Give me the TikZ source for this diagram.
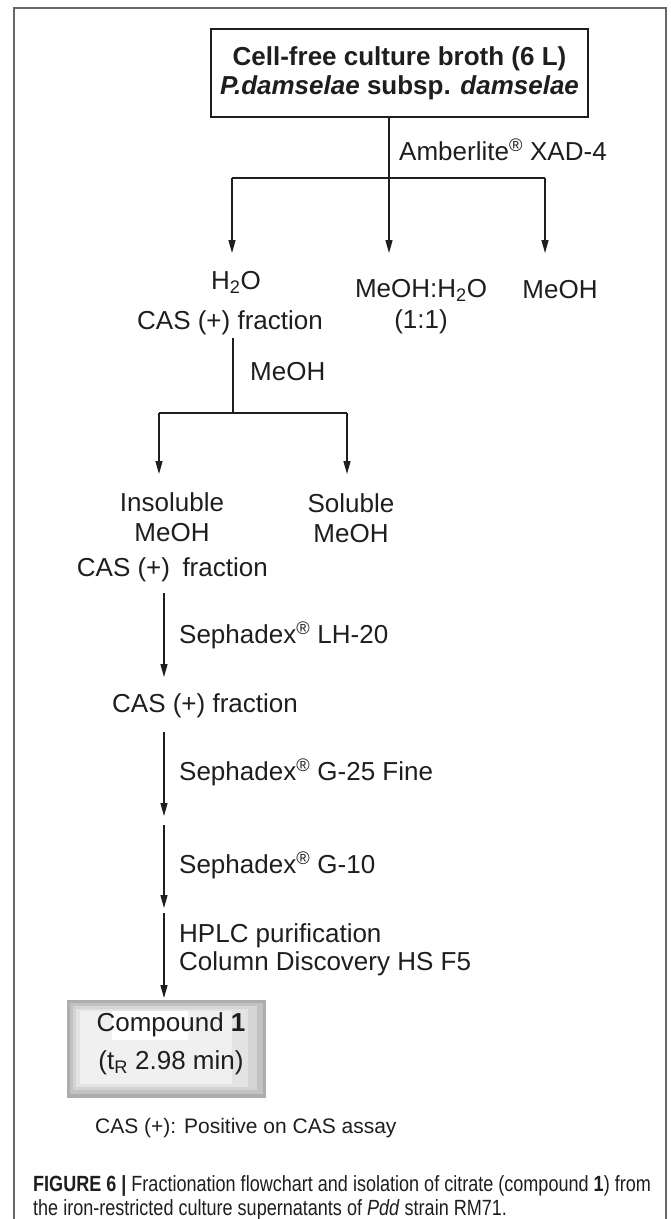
\documentclass[tikz,border=0pt]{standalone}
\usepackage{fontspec}
\setmainfont{Liberation Sans}
\newfontfamily\narrowfont[FakeStretch=0.82]{Liberation Sans}
\usetikzlibrary{arrows.meta}
\definecolor{ink}{HTML}{1E1E1E}
\begin{document}
\begin{tikzpicture}[x=1pt,y=-1pt,
  lbl/.style={inner sep=0pt, font=\fontsize{26}{30}\selectfont, text=ink},
  ln/.style={line width=1.3pt, draw=ink},
  arr/.style={ln, -{Stealth[length=13pt,width=7pt,inset=0pt]}},
  notetxt/.style={inner sep=0pt, font=\fontsize{21}{24}\selectfont, text=ink},
  captxt/.style={inner sep=0pt, font=\narrowfont\fontsize{22}{24.5}\selectfont, text=ink, align=left},
]
\useasboundingbox (0,0) rectangle (670,1219);
% outer frame
\draw[line width=1.5pt, draw=black!60] (14,1225) -- (14,8) -- (666,8) -- (666,1225);

% top box
\node[lbl, draw=ink, line width=1.3pt, minimum width=377pt, minimum height=88pt, align=center, font=\fontsize{26}{29}\selectfont\bfseries]
  (broth) at (399.5,73) {Cell-free culture broth (6 L)\\\textit{P.damselae} subsp. \textit{damselae}};
\node[lbl, anchor=west] (amb) at (399,150) {Amberlite\textsuperscript{\textregistered} XAD-4};

\coordinate (s1) at (389,178);
\coordinate (s1l) at (232,178);
\coordinate (s1r) at (545,178);
\coordinate (e1l) at (232,253);
\coordinate (e1m) at (389,253);
\coordinate (e1r) at (545,253);
\draw[ln] (broth.south -| s1) -- (s1);
\draw[ln] (s1l) -- (s1r);
\draw[arr] (s1l) -- (e1l);
\draw[arr] (s1) -- (e1m);
\draw[arr] (s1r) -- (e1r);

\node[lbl] (h2o) at (236,282) {H\textsubscript{2}O};
\node[lbl] (cas0) at (230,323) {CAS (+) fraction};
\node[lbl] (mw) at (421,290) {MeOH:H\textsubscript{2}O};
\node[lbl] (mw2) at (421,322) {(1:1)};
\node[lbl] (meoh) at (560,290) {MeOH};

% second split
\coordinate (s2) at (233,413);
\coordinate (s2l) at (159,413);
\coordinate (s2r) at (347,413);
\coordinate (e2l) at (159,474);
\coordinate (e2r) at (347,474);
\draw[ln] (cas0.south -| s2) ++(0,3) -- (s2);
\draw[ln] (s2l) -- (s2r);
\draw[arr] (s2l) -- (e2l);
\draw[arr] (s2r) -- (e2r);
\node[lbl, anchor=west] (meohlbl) at (250,372) {MeOH};

\node[lbl, align=center] (insol) at (172,517) {Insoluble\\MeOH};
\node[lbl, align=center] (sol) at (351,518) {Soluble\\MeOH};
\node[lbl, anchor=east] (cas1) at (268,570) {CAS (+)\hspace{0.2em} fraction};

% main chain
\coordinate (c1s) at (164,593);
\coordinate (c1e) at (164,677);
\coordinate (c2s) at (164,732);
\coordinate (c2e) at (164,816);
\coordinate (c3s) at (164,825);
\coordinate (c3e) at (164,908);
\coordinate (c4s) at (164,913);
\coordinate (c4e) at (164,998);
\draw[arr] (c1s) -- (c1e);
\draw[arr] (c2s) -- (c2e);
\draw[arr] (c3s) -- (c3e);
\draw[arr] (c4s) -- (c4e);
\node[lbl, anchor=west] (lh20) at (179,635) {Sephadex\textsuperscript{\textregistered} LH-20};
\node[lbl] (cas2) at (205,706) {CAS (+) fraction};
\node[lbl, anchor=west] (g25) at (179,772) {Sephadex\textsuperscript{\textregistered} G-25 Fine};
\node[lbl, anchor=west] (g10) at (179,865) {Sephadex\textsuperscript{\textregistered} G-10};
\node[lbl, anchor=west, align=left, font=\fontsize{26}{28}\selectfont] (hplc) at (179,950) {HPLC purification\\Column Discovery HS F5};

% compound box
\node[fill=black!32, minimum width=199pt, minimum height=98pt, inner sep=0pt] (cbox) at (166.5,1049) {};
\fill[black!24] (70,1003) rectangle (263,1094);
\fill[black!17] (73,1006) rectangle (257,1090);
\fill[black!11] (76,1009) rectangle (248,1087);
\fill[black!6] (80,1011) rectangle (232,1084);
\fill[white] (112,1011) rectangle (188,1040);
\node[lbl, align=center, font=\fontsize{26}{38}\selectfont] (cmp) at (171,1044) {Compound \textbf{1}\\(t\textsubscript{R} 2.98 min)};

% note and caption
\node[notetxt, anchor=west] (casnote) at (95,1128) {CAS (+): Positive on CAS assay};
\node[captxt, anchor=north west] (caption) at (33,1175) {\textbf{FIGURE 6 |} Fractionation flowchart and isolation of citrate (compound \textbf{1}) from\\the iron-restricted culture supernatants of \textit{Pdd} strain RM71.};
\end{tikzpicture}
\end{document}
